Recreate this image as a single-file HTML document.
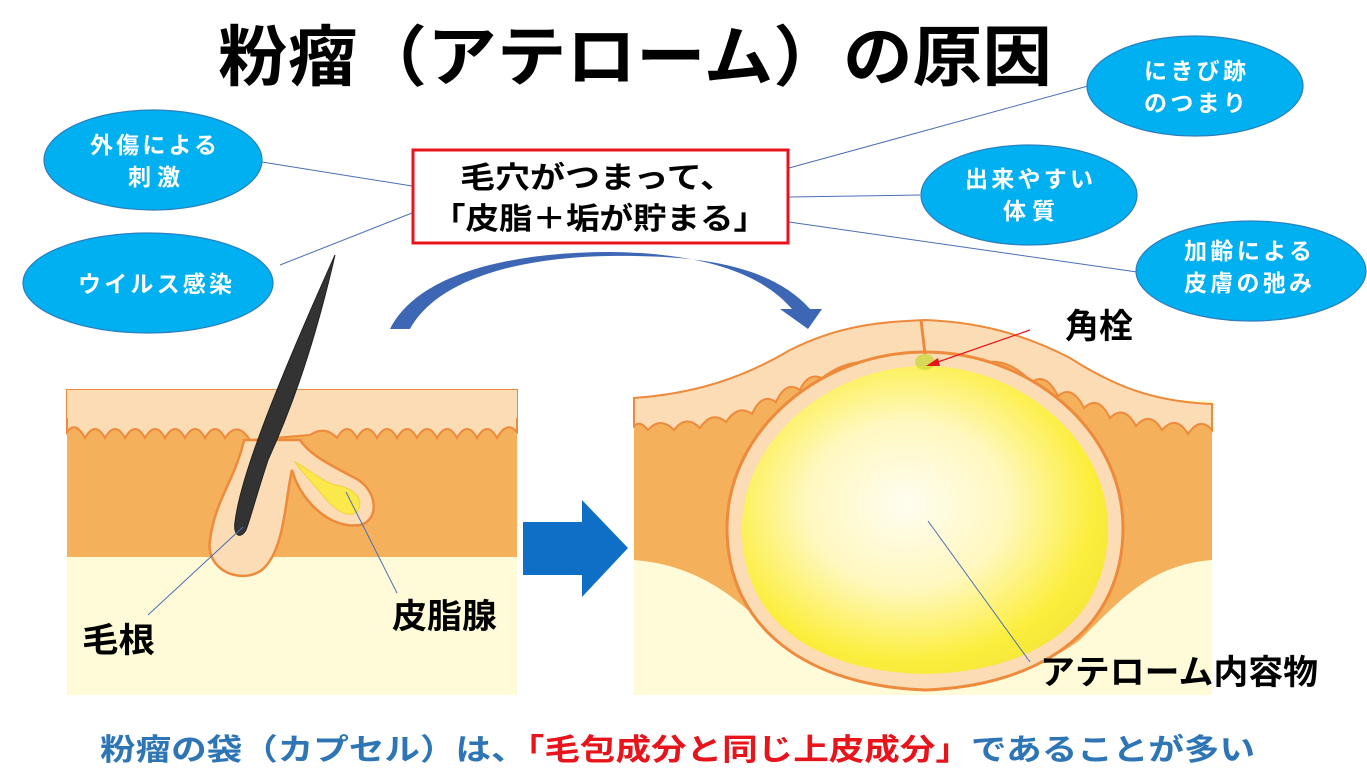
<!DOCTYPE html>
<html><head><meta charset="utf-8"><style>
html,body{margin:0;padding:0;background:#fff;}
svg{display:block;}
text{font-family:"Liberation Sans","Noto Sans CJK JP",sans-serif;}
</style></head><body>
<svg width="1367" height="784" viewBox="0 0 1367 784" xmlns="http://www.w3.org/2000/svg">
<defs>
<radialGradient id="cy" cx="0.45" cy="0.45" r="0.6">
<stop offset="0" stop-color="#fffdf0"/><stop offset="0.45" stop-color="#fff8c0"/><stop offset="0.85" stop-color="#fcee3c"/><stop offset="1" stop-color="#f6e63a"/>
</radialGradient>
</defs>
<text x="218" y="80" font-size="66" font-weight="bold" textLength="834" lengthAdjust="spacingAndGlyphs" fill="#000">粉瘤（アテローム）の原因</text>

<g stroke="#4a6fb5" stroke-width="1" fill="none">
<line x1="262" y1="162" x2="412" y2="186"/>
<line x1="280" y1="265" x2="412" y2="213"/>
<line x1="789" y1="168" x2="1088" y2="86"/>
<line x1="789" y1="197" x2="920" y2="195"/>
<line x1="789" y1="222" x2="1137" y2="272"/>
</g>

<g fill="#00b0f0" stroke="#2a7fc0" stroke-width="1.2">
<ellipse cx="153" cy="160" rx="109" ry="50"/>
<ellipse cx="148" cy="283" rx="125" ry="50"/>
<ellipse cx="1195" cy="86" rx="108" ry="50"/>
<ellipse cx="1029" cy="195" rx="108" ry="50"/>
<ellipse cx="1251" cy="271" rx="115" ry="50"/>
</g>
<g fill="#fff" font-size="23" font-weight="bold" lengthAdjust="spacingAndGlyphs">
<text x="90" y="153" textLength="127">外傷による</text><text x="128" y="185" textLength="52">刺激</text>
<text x="78" y="292" textLength="154">ウイルス感染</text>
<text x="1144" y="79" textLength="102">にきび跡</text><text x="1144" y="111" textLength="102">のつまり</text>
<text x="965" y="187" textLength="128">出来やすい</text><text x="1003" y="219" textLength="52">体質</text>
<text x="1184" y="259" textLength="128">加齢による</text><text x="1184" y="291" textLength="128">皮膚の弛み</text>
</g>

<rect x="413" y="150" width="375" height="93" fill="#fff" stroke="#e8141b" stroke-width="3"/>
<text x="460" y="188" font-size="30" font-weight="bold" textLength="275" lengthAdjust="spacingAndGlyphs">毛穴がつまって、</text>
<text x="432" y="229" font-size="30" font-weight="bold" textLength="335" lengthAdjust="spacingAndGlyphs">「皮脂＋垢が貯まる」</text>

<path d="M390,329 C420,270 520,252 610,252 C700,253 760,272 792,309 L780,309 L808,329 L822,309 L810,309 C770,265 700,255 610,256 C530,257 440,275 410,329 Z" fill="#3d66b5"/>

<!-- left skin -->
<rect x="67" y="390" width="450" height="305" fill="#fffbd8"/>
<rect x="67" y="390" width="450" height="167" fill="#f4b05a"/>
<path d="M67,390 L517,390 L517,432 Q507,420 497,438 Q487,420 477,438 Q467,420 457,438 Q447,420 437,438 Q427,420 417,438 Q407,420 397,438 Q387,420 377,438 Q367,420 357,438 Q347,420 337,438 Q325,425 310,435 L250,440 Q237,420 225,438 Q215,420 205,438 Q195,420 185,438 Q175,420 165,438 Q155,420 145,438 Q135,420 125,438 Q115,420 105,438 Q95,420 85,438 Q75,420 67,432 Z" fill="#fbdcb4" stroke="#ee8a3c" stroke-width="2"/>
<rect x="67" y="390" width="450" height="28" fill="#fbdcb4"/>
<path d="M244,440 C235,480 215,500 210,540 C205,570 240,585 262,570 C285,550 285,500 292,470 C300,500 330,530 360,525 C380,520 378,490 355,478 C330,465 310,455 300,440 Z" fill="#fbdcb4" stroke="#ee8a3c" stroke-width="2.5"/>
<path d="M295,462 C310,470 320,480 335,485 C355,488 365,500 357,512 C345,520 330,505 320,492 C310,480 300,470 295,462 Z" fill="#fbe84a" stroke="#f1d23a" stroke-width="1"/>
<path d="M335,255 C320,320 300,390 268,460 C255,500 250,520 246,530 C240,540 233,535 235,522 C240,480 270,400 335,255 Z" fill="#333" stroke="#222" stroke-width="1"/>
<g stroke="#4a6fb5" stroke-width="1"><line x1="243" y1="527" x2="148" y2="615"/><line x1="346" y1="492" x2="397" y2="593"/></g>
<text x="82" y="652" font-size="34" font-weight="bold" textLength="73" lengthAdjust="spacingAndGlyphs">毛根</text>
<text x="392" y="628" font-size="34" font-weight="bold" textLength="105" lengthAdjust="spacingAndGlyphs">皮脂腺</text>

<path d="M523,522 L582,522 L582,500 L628,548 L582,597 L582,575 L523,575 Z" fill="#0f6fc6"/>

<!-- right skin -->
<rect x="634" y="400" width="578" height="295" fill="#fffbd8"/>
<path d="M634,398 C690,394 740,380 790,350 C840,325 880,322 925,320 C975,322 1020,332 1070,358 C1120,390 1160,402 1212,404 L1212,560 C1150,565 1120,600 1080,640 C1000,700 850,700 780,640 C740,600 700,565 634,560 Z" fill="#f4b05a"/>
<path d="M634,398 C690,394 740,380 790,350 C840,325 880,322 925,320 C975,322 1020,332 1070,358 C1120,390 1160,402 1212,404 L1212,430 Q1200,416 1188,434 Q1176,414 1162,430 Q1150,410 1136,426 Q1124,404 1110,418 Q1098,394 1084,408 Q1072,384 1058,396 Q1046,372 1032,382 Q1010,360 990,362 L860,362 Q840,364 822,378 Q808,372 800,390 Q786,380 776,402 Q762,392 752,414 Q738,404 726,422 Q712,410 700,428 Q686,414 674,430 Q660,416 648,430 Q640,420 634,426 Z" fill="#fbdcb4" stroke="#ee8a3c" stroke-width="2"/>
<path d="M727,528 C727,430 820,352 925,352 C1030,352 1123,430 1123,528 C1123,630 1040,686 925,690 C810,686 727,630 727,528 Z" fill="#fbdcb4" stroke="#ee8a3c" stroke-width="3"/>
<path d="M742,528 C742,440 830,366 925,366 C1020,366 1108,440 1108,528 C1108,625 1030,672 925,674 C820,672 742,625 742,528 Z" fill="url(#cy)"/>
<line x1="921" y1="320" x2="925" y2="354" stroke="#ee8a3c" stroke-width="3"/>
<ellipse cx="925" cy="362" rx="10" ry="8" fill="#c8d830" opacity="0.7"/>
<line x1="1030" y1="330" x2="932" y2="364" stroke="#e8141b" stroke-width="1.2"/>
<path d="M926,366 L938,358 L940,366 Z" fill="#e8141b"/>
<line x1="928" y1="521" x2="1030" y2="662" stroke="#4a6fb5" stroke-width="1"/>
<text x="1065" y="338" font-size="34" font-weight="bold" textLength="68" lengthAdjust="spacingAndGlyphs">角栓</text>
<text x="1040" y="684" font-size="34" font-weight="bold" textLength="278" lengthAdjust="spacingAndGlyphs">アテローム内容物</text>

<text x="100" y="760" font-size="30" font-weight="bold" textLength="1155" lengthAdjust="spacingAndGlyphs"><tspan fill="#2e75b6">粉瘤の袋（カプセル）は、</tspan><tspan fill="#e8141b">「毛包成分と同じ上皮成分」</tspan><tspan fill="#2e75b6">であることが多い</tspan></text>
</svg>
</body></html>
